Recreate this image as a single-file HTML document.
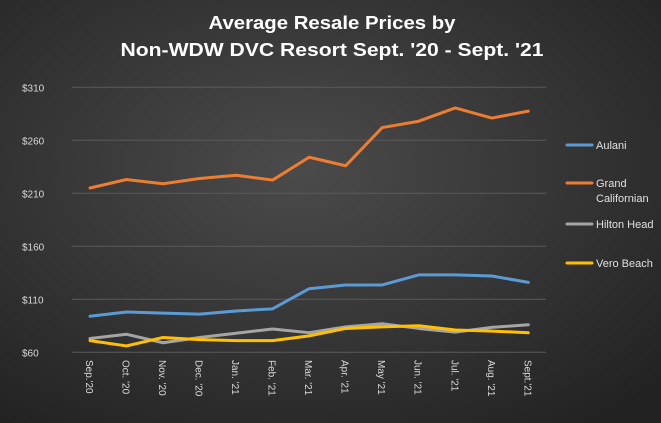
<!DOCTYPE html>
<html><head><meta charset="utf-8"><style>
html,body{margin:0;padding:0;width:661px;height:423px;overflow:hidden;background:#2b2b2b}
svg{display:block;font-family:"Liberation Sans",sans-serif}
</style></head><body>
<svg id="chart" width="661" height="423" viewBox="0 0 661 423">
<defs><radialGradient id="bg" cx="0.45" cy="0.4" r="0.75"><stop offset="0" stop-color="#4b4b4b"/><stop offset="1" stop-color="#222"/></radialGradient></defs>
<rect width="661" height="423" fill="url(#bg)"/>
<text x="332" y="29" fill="#fff" font-size="18" font-weight="bold" text-anchor="middle" textLength="247" lengthAdjust="spacingAndGlyphs">Average Resale Prices by</text>
<text x="332" y="56" fill="#fff" font-size="18" font-weight="bold" text-anchor="middle" textLength="423" lengthAdjust="spacingAndGlyphs">Non-WDW  DVC Resort Sept. '20 - Sept. '21</text>
<g id="grid"></g><g id="xlabels"></g><g id="series"></g><g id="legend"></g>
</svg>
<script>
const categories=["Sep.'20","Oct. '20","Nov. '20","Dec. '20","Jan. '21","Feb. '21","Mar. '21","Apr. '21","May '21","Jun. '21","Jul. '21","Aug. '21","Sept.'21"];
const yTicks=[60,110,160,210,260,310];
const yTickLabels=["$60","$110","$160","$210","$260","$310"];
const seriesNames=["Aulani","Grand Californian","Hilton Head","Vero Beach"];
const aulani=[94,98,97,96,99,101,120,123.5,123.5,133,133,132,126];
const grandCalifornian=[215,223,219,224,227,222.5,244,236,272,278,290.5,281,287.5];
const hiltonHead=[73,77,69,74,78,82,78.5,84,87,82.5,79,83.5,86];
const veroBeach=[71,66,74,72,71,71,75.5,82.5,84,85,81,80,78.5];
const colors=["#5b9bd5","#ed7d31","#a5a5a5","#ffc000"];
const NS="http://www.w3.org/2000/svg";
const x0=90,x1=528.3,yTop=87.3,yBot=352.3,vMin=60,vMax=310;
function xs(i){return x0+(x1-x0)*i/(categories.length-1);}
function ys(v){return yBot-(v-vMin)*(yBot-yTop)/(vMax-vMin);}
const grid=document.getElementById('grid');
yTicks.forEach((t,i)=>{
  const l=document.createElementNS(NS,'line');
  l.setAttribute('x1',72);l.setAttribute('x2',546);l.setAttribute('y1',ys(t));l.setAttribute('y2',ys(t));
  l.setAttribute('stroke','#5a5a5a');l.setAttribute('stroke-width','1');
  
  
  grid.appendChild(l);
  const tx=document.createElementNS(NS,'text');
  tx.setAttribute('x',22);tx.setAttribute('y',ys(t)+4);tx.setAttribute('fill','#d9d9d9');tx.setAttribute('font-size','10');
  tx.textContent=yTickLabels[i];
  
  
  grid.appendChild(tx);
});
const xl=document.getElementById('xlabels');
categories.forEach((c,i)=>{
  const tx=document.createElementNS(NS,'text');
  const x=xs(i)-4,y=360;
  tx.setAttribute('transform','translate('+x+','+y+') rotate(90)');
  tx.setAttribute('fill','#d9d9d9');tx.setAttribute('font-size','10');
  tx.textContent=c;
  
  
  xl.appendChild(tx);
});
const data=[aulani,grandCalifornian,hiltonHead,veroBeach];
const sg=document.getElementById('series');
[2,3,0,1].forEach(k=>{
  const p=document.createElementNS(NS,'polyline');
  p.setAttribute('points',data[k].map((v,i)=>xs(i)+','+ys(v)).join(' '));
  p.setAttribute('fill','none');p.setAttribute('stroke',colors[k]);p.setAttribute('stroke-width','3');
  p.setAttribute('stroke-linejoin','round');p.setAttribute('stroke-linecap','round');
  
  
  sg.appendChild(p);
});
const lg=document.getElementById('legend');
const ly=[145,183,224,263];
seriesNames.forEach((n,k)=>{
  const g=document.createElementNS(NS,'g');
  
  
  const l=document.createElementNS(NS,'line');
  l.setAttribute('x1',567);l.setAttribute('x2',592);l.setAttribute('y1',ly[k]);l.setAttribute('y2',ly[k]);
  l.setAttribute('stroke',colors[k]);l.setAttribute('stroke-width','3');l.setAttribute('stroke-linecap','round');
  g.appendChild(l);
  const parts=n==="Grand Californian"?["Grand","Californian"]:[n];
  parts.forEach((s,j)=>{
    const t=document.createElementNS(NS,'text');
    t.setAttribute('x',596);t.setAttribute('y',ly[k]+4+j*15);t.setAttribute('fill','#e0e0e0');t.setAttribute('font-size','11');
    t.textContent=s;
    g.appendChild(t);
  });
  lg.appendChild(g);
});
</script>
</body></html>
